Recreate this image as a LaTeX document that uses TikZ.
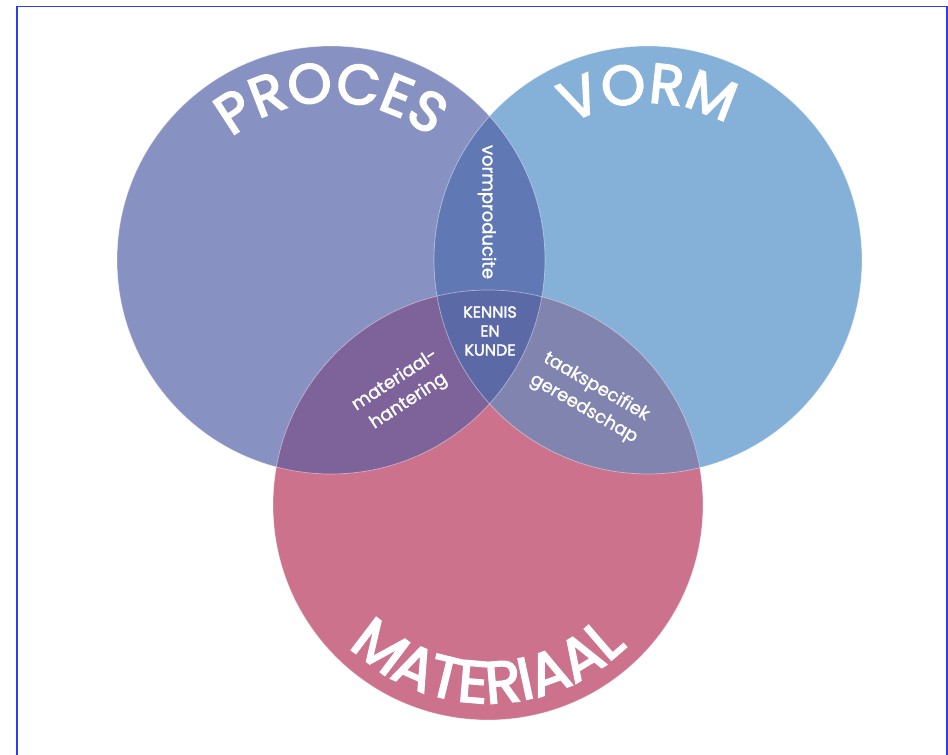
\documentclass[tikz,border=0pt]{standalone}
\usepackage{fontspec}
\newfontfamily\pop{Poppins}[FakeBold=1.2]
\newfontfamily\popT{Poppins}[FakeBold=3]
\newfontfamily\popK{Poppins}[FakeBold=2]
\usetikzlibrary{decorations.text}
\definecolor{procesC}{HTML}{8792C2}
\definecolor{vormC}{HTML}{85B1D8}
\definecolor{matC}{HTML}{CC728D}
\definecolor{pvC}{HTML}{6079B4}
\definecolor{pmC}{HTML}{7D6399}
\definecolor{vmC}{HTML}{8284B0}
\definecolor{pvmC}{HTML}{5B69A6}
\definecolor{frameC}{HTML}{2B3FF0}
\tikzset{
  edge/.style={draw=white, draw opacity=0.45, line width=0.7pt},
  frame/.style={draw=frameC, line width=1.6pt},
  lbl/.style={text=white, font=\pop\fontsize{18}{25}\selectfont, inner sep=0pt},
  arctext/.style={decorate, decoration={text along path, text align=center, text color=white, text={#1}}}
}
\begin{document}
\begin{tikzpicture}[x=1pt,y=1pt]
\useasboundingbox (0,0) rectangle (948,755);
\coordinate (P) at (331,495);
\coordinate (V) at (648,495);
\coordinate (M) at (488,250);
% base circles
\fill[procesC] (P) circle[radius=214];
\fill[vormC] (V) circle[radius=214];
\fill[matC] (M) circle[radius=215];
% overlaps
\begin{scope}
  \clip (P) circle[radius=214];
  \fill[pvC] (V) circle[radius=214];
  \fill[pmC] (M) circle[radius=215];
\end{scope}
\begin{scope}
  \clip (V) circle[radius=214];
  \fill[vmC] (M) circle[radius=215];
\end{scope}
\begin{scope}
  \clip (P) circle[radius=214];
  \clip (V) circle[radius=214];
  \fill[pvmC] (M) circle[radius=215];
\end{scope}
% outlines
\draw[edge] (P) circle[radius=214];
\draw[edge] (V) circle[radius=214];
\draw[edge] (M) circle[radius=215];
% frame
\begin{scope}
  \clip (0,0) rectangle (948,755);
  \draw[frame] (17,-10) |- (947,748.5) -- (947,-10);
\end{scope}
% arc titles
\path[arctext={|\popT\fontsize{56}{56}\selectfont|PROCES}] ([shift={(160:158)}]P) arc[start angle=160, end angle=20, radius=158];
\path[arctext={|\popT\fontsize{56}{56}\selectfont|VORM}] ([shift={(160:157)}]V) arc[start angle=160, end angle=20, radius=157];
\path[arctext={|\popT\fontsize{59}{59}\selectfont|MATERIAAL}] ([shift={(200:198)}]M) arc[start angle=200, end angle=340, radius=198];
% region labels
\node[lbl, rotate=-90] (vp) at (487,543) {vormproducite};
\node[lbl, align=center, font=\popK\fontsize{16}{19}\selectfont] (kk) at (490,424) {KENNIS\\EN\\KUNDE};
\node[lbl, rotate=33, align=center] (mh) at (402,364) {materiaal-\\hantering};
\node[lbl, rotate=-30, align=center] (tg) at (590,357) {taakspecifiek\\gereedschap};
\end{tikzpicture}
\end{document}
